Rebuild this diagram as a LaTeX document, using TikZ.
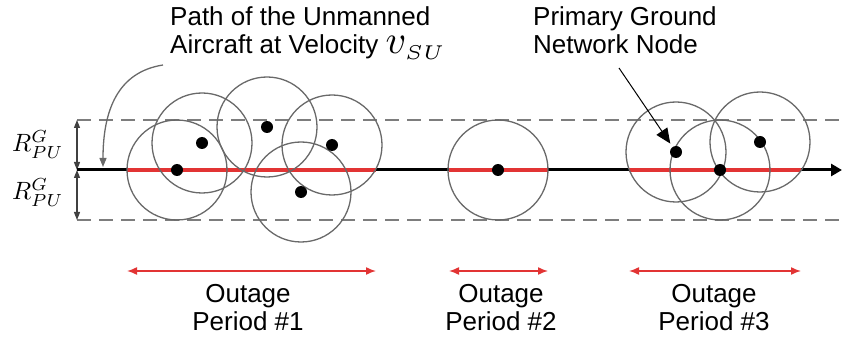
\documentclass[tikz,border=0pt]{standalone}
\usepackage{fontspec}
\setmainfont{Liberation Sans}
\usetikzlibrary{arrows.meta}

\definecolor{pathred}{RGB}{226,52,52}
\definecolor{ringgray}{RGB}{105,105,105}
\definecolor{bandgray}{RGB}{125,125,125}

\newcommand{\bigmath}[2]{{\fontsize{10}{12}\selectfont\scalebox{#1}{$#2$}}}

\tikzset{
    gnode/.style={circle,fill=black,inner sep=0pt,minimum size=12pt},
    ring/.style={draw=ringgray,line width=1.3pt},
    band/.style={draw=bandgray,line width=1.6pt,dash pattern=on 14pt off 8pt},
    chord/.style={draw=pathred,line width=4pt},
    outage/.style={draw=pathred,line width=1.5pt,{Latex[length=10pt,width=8pt]}-{Latex[length=10pt,width=8pt]}},
    radius/.style={draw=black!75,line width=1.2pt,{Triangle[length=8pt,width=6pt]}-{Triangle[length=8pt,width=6pt]}},
}

\begin{document}
\begin{tikzpicture}[x=1pt,y=-1pt,font=\fontsize{26}{28}\selectfont]
    \useasboundingbox (0,0) rectangle (843,339);

    %% coverage band of width 2R around the flight path
    \coordinate (bandtop) at (77,120);
    \coordinate (bandbot) at (77,220);
    \coordinate (start) at (77,170);
    \coordinate (end) at (842,170);
    \draw[band] (bandtop) -- (843,120);
    \draw[band] (bandbot) -- (843,220);
    \draw[radius] (bandtop) -- (start);
    \draw[radius] (start) -- (bandbot);
    \node[anchor=base west,inner sep=0pt] (rtop) at (12,152) {\bigmath{2.5}{R^{G}_{PU}}};
    \node[anchor=base west,inner sep=0pt] (rbot) at (12,200) {\bigmath{2.5}{R^{G}_{PU}}};

    %% flight path
    \draw[line width=3pt,-{Triangle[length=11pt,width=12pt]}] (start) -- (end);

    %% parts of the path inside a coverage ring
    \coordinate (p1s) at (127,170);
    \coordinate (p1e) at (376,170);
    \coordinate (p2s) at (449,170);
    \coordinate (p2e) at (548,170);
    \coordinate (p3s) at (629,170);
    \coordinate (p3e) at (801,170);
    \draw[chord] (p1s) -- (p1e);
    \draw[chord] (p2s) -- (p2e);
    \draw[chord] (p3s) -- (p3e);

    %% ground nodes and their coverage rings
    \coordinate (a1) at (177,170);
    \coordinate (a2) at (202,143);
    \coordinate (a3) at (267,127);
    \coordinate (a4) at (332,145);
    \coordinate (a5) at (301,192);
    \coordinate (b1) at (498,170);
    \coordinate (c1) at (676,152);
    \coordinate (c2) at (720,170);
    \coordinate (c3) at (760,142);
    \foreach \c in {a1,a2,a3,a4,a5,b1,c1,c2,c3}
        \draw[ring] (\c) circle (50pt);
    \foreach \c in {a1,a2,a3,a4,a5,b1,c1,c2,c3}
        \node[gnode] (\c dot) at (\c) {};

    %% labels on top
    \node[anchor=north west,inner sep=0pt,align=left] (uav) at (170,6)
        {Path of the Unmanned\\Aircraft at Velocity \bigmath{4}{v_{\scriptscriptstyle SU}}};
    \coordinate (uavtail) at (163,65);
    \coordinate (uavtip) at (103,167);
    \draw[draw=ringgray,line width=1.3pt,-{Triangle[length=9pt,width=7pt]}]
        (uavtail) .. controls (118,72) and (103,110) .. (uavtip);

    \node[anchor=north west,inner sep=0pt,align=left] (pgn) at (533,6)
        {Primary Ground\\Network Node};
    \coordinate (pgntail) at (619,68);
    \draw[line width=1pt,-{Triangle[length=15pt,width=13pt]},shorten >=4pt] (pgntail) -- (c1dot);

    %% outage periods
    \draw[outage] ([yshift=-101pt]p1s) -- ([yshift=-101pt]p1e);
    \draw[outage] ([yshift=-101pt]p2s) -- ([yshift=-101pt]p2e);
    \draw[outage] ([yshift=-101pt]p3s) -- ([yshift=-101pt]p3e);
    \node[anchor=north,inner sep=0pt,align=center] (out1) at (248,284) {Outage\\Period \#1};
    \node[anchor=north,inner sep=0pt,align=center] (out2) at (501,284) {Outage\\Period \#2};
    \node[anchor=north,inner sep=0pt,align=center] (out3) at (714,284) {Outage\\Period \#3};
\end{tikzpicture}
\end{document}
